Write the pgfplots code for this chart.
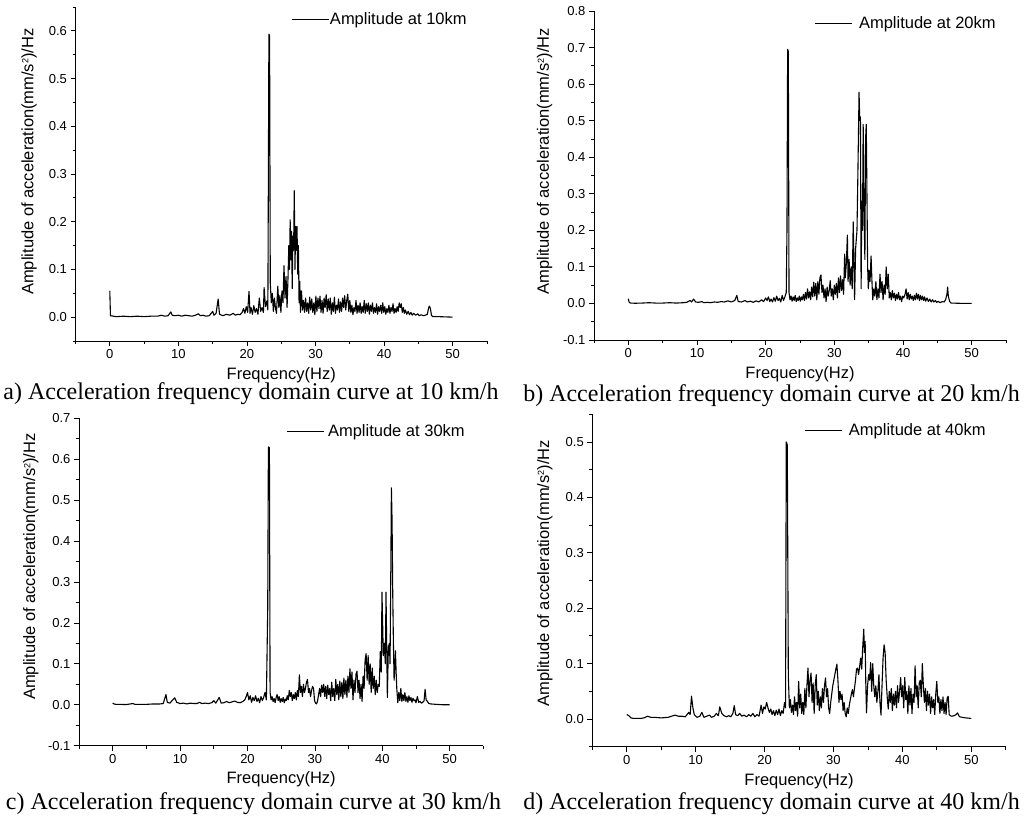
\documentclass[border=0pt]{standalone}
\usepackage{pgfplots}
\usepackage{pgfplotstable}
\pgfplotsset{compat=1.18}
\usepackage{fontspec}
\setmainfont{Liberation Sans}
\newfontfamily\capfont{Liberation Serif}

\pgfplotstableread{
x y
0 0.055
0.1 0.003
0.5 0.002
1 0.001
2 0.002
3 0.001
4 0.002
5 0.001
6 0.002
7 0.002
7.5 0.004
8 0.002
8.5 0.003
8.9 0.011
9.1 0.004
9.5 0.003
10 0.004
10.5 0.002
11 0.004
11.5 0.003
12 0.002
12.5 0.004
12.9 0.007
13.2 0.003
13.6 0.004
14 0.002
14.5 0.003
15 0.012
15.2 0.004
15.5 0.008
15.8 0.038
16.0 0.006
16.5 0.003
17 0.006
17.5 0.004
18 0.008
18.3 0.004
18.7 0.006
19 0.005
19.3 0.010
19.5 0.018
19.7 0.008
19.9 0.022
20.1 0.010
20.3 0.054
20.45 0.008
20.6 0.020
20.8 0.006
21.0 0.024
21.2 0.010
21.4 0.018
21.6 0.006
21.8 0.040
22.0 0.012
22.2 0.020
22.4 0.010
22.5 0.062
22.7 0.022
22.9 0.034
23.05 0.015
23.2 0.593
23.3 0.590
23.4 0.072
23.55 0.030
23.7 0.050
23.85 0.012
24.0 0.040
24.15 0.020
24.3 0.008
24.5 0.065
24.65 0.020
24.8 0.045
24.95 0.010
25.1 0.055
25.25 0.030
25.4 0.108
25.55 0.040
25.7 0.085
25.85 0.020
26.0 0.090
26.1 0.150
26.2 0.100
26.3 0.204
26.4 0.120
26.5 0.180
26.6 0.060
26.7 0.170
26.8 0.140
26.9 0.265
27.0 0.100
27.1 0.190
27.2 0.140
27.3 0.190
27.4 0.090
27.5 0.150
27.6 0.030
27.7 0.075
27.8 0.010
27.95 0.055
28.1 0.015
28.25 0.035
28.4 0.010
28.55 0.040
28.7 0.012
28.85 0.030
29.0 0.008
29.15 0.042
29.3 0.015
29.45 0.038
29.6 0.010
29.75 0.030
29.9 0.005
30.05 0.044
30.2 0.012
30.35 0.040
30.5 0.018
30.65 0.044
30.8 0.010
30.95 0.035
31.1 0.008
31.25 0.040
31.4 0.020
31.55 0.047
31.7 0.012
31.85 0.038
32.0 0.015
32.15 0.040
32.3 0.006
32.45 0.030
32.6 0.012
32.75 0.042
32.9 0.008
33.05 0.025
33.2 0.015
33.35 0.038
33.5 0.010
33.65 0.032
33.8 0.012
33.95 0.040
34.1 0.020
34.25 0.045
34.4 0.015
34.55 0.035
34.7 0.048
34.85 0.012
35.0 0.035
35.15 0.010
35.3 0.025
35.45 0.005
35.6 0.020
35.75 0.012
35.9 0.035
36.05 0.008
36.2 0.025
36.35 0.010
36.5 0.030
36.65 0.008
36.8 0.022
36.95 0.010
37.1 0.035
37.25 0.008
37.4 0.028
37.55 0.012
37.7 0.030
37.85 0.006
38.0 0.025
38.15 0.012
38.3 0.030
38.45 0.008
38.6 0.020
38.75 0.010
38.9 0.028
39.05 0.006
39.2 0.022
39.35 0.012
39.5 0.025
39.65 0.008
39.8 0.030
39.95 0.010
40.1 0.022
40.25 0.006
40.4 0.018
40.55 0.010
40.7 0.025
40.85 0.008
41.0 0.020
41.15 0.012
41.3 0.028
41.45 0.008
41.6 0.018
41.75 0.010
41.9 0.022
42.05 0.012
42.2 0.030
42.35 0.020
42.5 0.028
42.65 0.010
42.8 0.020
42.95 0.008
43.1 0.015
43.3 0.006
43.5 0.012
43.7 0.005
43.9 0.010
44.1 0.004
44.3 0.008
44.6 0.004
44.9 0.007
45.1 0.003
45.4 0.005
45.7 0.003
46.0 0.004
46.3 0.006
46.5 0.020
46.6 0.023
46.75 0.018
46.9 0.004
47.1 0.001
48 0.001
49 0.0005
50 0.0
}\dataA

\pgfplotstableread{
x y
0 0.013
0.1 0.004
0.3 0.001
1 0.0005
2 0.001
3 0.002
4 0.001
5 0.001
6 0.002
7 0.001
8 0.002
8.5 0.003
9.0 0.008
9.2 0.004
9.5 0.012
9.8 0.004
10.2 0.003
10.7 0.005
11 0.002
11.5 0.003
12 0.002
12.5 0.004
13 0.003
13.5 0.005
14 0.004
14.5 0.007
15 0.004
15.5 0.008
15.8 0.022
16 0.005
16.5 0.004
17 0.008
17.3 0.004
17.8 0.006
18.2 0.003
18.6 0.007
19 0.004
19.4 0.010
19.7 0.005
20.0 0.015
20.2 0.008
20.4 0.018
20.6 0.005
20.8 0.012
21.0 0.004
21.2 0.016
21.4 0.006
21.6 0.020
21.8 0.008
22.0 0.014
22.2 0.004
22.4 0.022
22.6 0.008
22.8 0.018
23.0 0.030
23.1 0.195
23.2 0.695
23.3 0.690
23.4 0.030
23.55 0.010
23.7 0.020
23.85 0.006
24.0 0.018
24.15 0.008
24.3 0.022
24.45 0.005
24.6 0.015
24.75 0.008
24.9 0.020
25.05 0.006
25.2 0.018
25.35 0.010
25.5 0.025
25.65 0.008
25.8 0.030
25.95 0.012
26.1 0.040
26.25 0.015
26.4 0.032
26.55 0.010
26.7 0.045
26.85 0.018
27.0 0.058
27.15 0.020
27.3 0.055
27.45 0.010
27.6 0.060
27.75 0.025
27.9 0.070
28.05 0.078
28.2 0.030
28.35 0.050
28.5 0.015
28.65 0.040
28.8 0.005
28.95 0.045
29.1 0.020
29.25 0.035
29.4 0.062
29.55 0.020
29.7 0.040
29.85 0.010
30.0 0.050
30.15 0.025
30.3 0.055
30.45 0.015
30.6 0.070
30.75 0.030
30.9 0.075
31.05 0.035
31.2 0.065
31.35 0.025
31.5 0.135
31.6 0.070
31.75 0.110
31.9 0.187
32.0 0.060
32.15 0.120
32.3 0.050
32.45 0.100
32.6 0.040
32.75 0.223
32.85 0.120
32.95 0.010
33.1 0.150
33.3 0.200
33.45 0.380
33.6 0.578
33.7 0.500
33.8 0.510
33.9 0.040
34.0 0.280
34.1 0.200
34.2 0.490
34.3 0.280
34.45 0.120
34.55 0.450
34.65 0.490
34.75 0.300
34.85 0.100
34.95 0.040
35.05 0.090
35.2 0.060
35.35 0.130
35.5 0.050
35.6 0.010
35.75 0.040
35.9 0.020
36.05 0.060
36.2 0.010
36.35 0.040
36.5 0.015
36.65 0.080
36.8 0.030
36.95 0.060
37.1 0.010
37.25 0.050
37.4 0.025
37.55 0.100
37.7 0.040
37.85 0.080
38.0 0.015
38.15 0.030
38.3 0.010
38.45 0.035
38.6 0.015
38.75 0.028
38.9 0.008
39.05 0.025
39.2 0.012
39.35 0.030
39.5 0.010
39.65 0.020
39.8 0.005
39.95 0.020
40.1 0.015
40.3 0.025
40.45 0.040
40.6 0.012
40.75 0.030
40.9 0.010
41.05 0.025
41.2 0.012
41.35 0.020
41.5 0.008
41.65 0.022
41.8 0.010
41.95 0.028
42.1 0.012
42.25 0.025
42.4 0.008
42.55 0.022
42.7 0.010
42.85 0.020
43.0 0.008
43.15 0.018
43.3 0.006
43.5 0.015
43.7 0.005
43.9 0.012
44.1 0.004
44.3 0.010
44.5 0.004
44.7 0.008
44.9 0.003
45.1 0.006
45.4 0.002
45.7 0.005
46.0 0.004
46.2 0.010
46.4 0.025
46.5 0.045
46.6 0.020
46.8 0.005
47.0 0.001
48 0.0005
49 0.0
50 0.0
}\dataB

\pgfplotstableread{
x y
0 0.004
0.2 0.002
0.5 0.001
1 0.001
2 0.0005
3 0.003
3.3 0.001
4 0.001
5 0.001
6 0.002
7 0.002
7.5 0.003
7.9 0.025
8.1 0.006
8.5 0.004
8.9 0.012
9.2 0.017
9.5 0.006
10 0.003
10.5 0.004
11 0.002
11.5 0.004
12 0.003
12.5 0.003
12.9 0.006
13.2 0.003
13.7 0.004
14.2 0.003
14.7 0.005
15.0 0.010
15.3 0.004
15.8 0.018
16.1 0.004
16.5 0.005
16.9 0.008
17.3 0.005
17.7 0.007
18.1 0.009
18.5 0.006
18.9 0.005
19.3 0.008
19.6 0.012
19.8 0.020
20.0 0.030
20.2 0.012
20.4 0.022
20.6 0.006
20.8 0.018
21.0 0.010
21.2 0.022
21.4 0.008
21.6 0.016
21.8 0.005
22.0 0.020
22.2 0.010
22.4 0.018
22.6 0.030
22.8 0.012
23.0 0.234
23.1 0.630
23.25 0.628
23.35 0.030
23.5 0.012
23.65 0.020
23.8 0.008
23.95 0.015
24.1 0.005
24.25 0.018
24.4 0.025
24.55 0.010
24.7 0.020
24.85 0.006
25.0 0.015
25.15 0.008
25.3 0.018
25.45 0.005
25.6 0.014
25.75 0.010
25.9 0.022
26.05 0.012
26.2 0.035
26.35 0.020
26.5 0.030
26.65 0.010
26.8 0.025
26.95 0.015
27.1 0.030
27.25 0.012
27.4 0.035
27.55 0.020
27.7 0.073
27.85 0.030
28.0 0.045
28.15 0.020
28.3 0.050
28.45 0.030
28.6 0.040
28.75 0.055
28.9 0.062
29.05 0.030
29.2 0.040
29.35 0.020
29.5 0.035
29.65 0.045
29.8 0.040
29.95 0.010
30.1 0.004
30.25 0.002
30.4 0.010
30.55 0.025
30.7 0.040
30.85 0.020
31.0 0.048
31.15 0.030
31.3 0.050
31.45 0.020
31.6 0.045
31.75 0.015
31.9 0.048
32.05 0.025
32.2 0.040
32.35 0.010
32.5 0.055
32.65 0.020
32.8 0.040
32.95 0.010
33.1 0.062
33.25 0.025
33.4 0.050
33.55 0.012
33.7 0.058
33.85 0.020
34.0 0.055
34.15 0.015
34.3 0.065
34.45 0.025
34.6 0.060
34.75 0.018
34.9 0.070
35.05 0.030
35.2 0.088
35.35 0.040
35.5 0.080
35.65 0.012
35.8 0.060
35.95 0.030
36.1 0.075
36.25 0.082
36.4 0.030
36.55 0.060
36.7 0.015
36.85 0.050
37.0 0.008
37.15 0.070
37.3 0.040
37.45 0.110
37.6 0.125
37.75 0.060
37.9 0.120
38.05 0.050
38.2 0.100
38.35 0.030
38.5 0.090
38.65 0.040
38.8 0.070
38.95 0.025
39.1 0.060
39.25 0.030
39.4 0.050
39.55 0.045
39.7 0.130
39.85 0.080
39.95 0.275
40.05 0.200
40.15 0.120
40.3 0.150
40.45 0.100
40.55 0.275
40.65 0.150
40.75 0.018
40.9 0.140
41.05 0.150
41.15 0.100
41.25 0.300
41.35 0.530
41.45 0.450
41.55 0.270
41.65 0.150
41.75 0.060
41.85 0.090
41.95 0.132
42.05 0.080
42.15 0.040
42.3 0.005
42.45 0.030
42.6 0.010
42.75 0.040
42.9 0.008
43.05 0.025
43.2 0.010
43.35 0.030
43.5 0.008
43.65 0.020
43.8 0.006
43.95 0.022
44.1 0.010
44.25 0.018
44.4 0.006
44.55 0.016
44.7 0.010
44.85 0.012
45.0 0.005
45.2 0.020
45.4 0.006
45.6 0.008
45.8 0.004
46.0 0.006
46.2 0.010
46.35 0.038
46.5 0.012
46.7 0.008
46.9 0.003
47.2 0.002
48 0.001
49 0.0
50 0.0
}\dataC

\pgfplotstableread{
x y
0 0.008
0.3 0.006
0.6 0.002
1 0.001
2 0.001
2.5 0.002
3 0.005
3.5 0.003
4 0.003
5 0.002
6 0.003
6.5 0.005
7 0.007
7.5 0.005
8 0.005
8.5 0.004
9.0 0.012
9.2 0.008
9.4 0.041
9.6 0.020
9.8 0.008
10.2 0.003
10.6 0.005
10.9 0.012
11.2 0.003
11.6 0.005
12.0 0.007
12.3 0.003
12.7 0.005
13.0 0.010
13.3 0.006
13.5 0.022
13.8 0.010
14.1 0.006
14.5 0.004
14.8 0.006
15.1 0.004
15.4 0.010
15.6 0.024
15.8 0.008
16.1 0.006
16.4 0.010
16.7 0.005
17.0 0.007
17.4 0.004
17.7 0.008
18.0 0.005
18.3 0.010
18.6 0.004
18.9 0.008
19.2 0.005
19.5 0.025
19.7 0.010
19.9 0.022
20.1 0.018
20.3 0.030
20.5 0.020
20.7 0.012
20.9 0.018
21.1 0.008
21.3 0.015
21.5 0.006
21.7 0.016
21.9 0.008
22.1 0.018
22.3 0.006
22.5 0.015
22.7 0.010
22.9 0.030
23.05 0.020
23.15 0.500
23.3 0.495
23.45 0.080
23.6 0.020
23.75 0.035
23.9 0.012
24.05 0.025
24.2 0.008
24.35 0.040
24.5 0.015
24.65 0.030
24.8 0.005
24.95 0.068
25.1 0.020
25.25 0.045
25.4 0.010
25.55 0.030
25.7 0.008
25.85 0.055
26.0 0.020
26.15 0.060
26.3 0.092
26.45 0.040
26.6 0.070
26.75 0.083
26.9 0.030
27.05 0.065
27.2 0.010
27.35 0.060
27.5 0.080
27.65 0.025
27.8 0.050
27.95 0.015
28.1 0.040
28.25 0.020
28.4 0.055
28.55 0.030
28.7 0.060
28.85 0.074
29.0 0.040
29.15 0.055
29.3 0.020
29.45 0.010
29.6 0.030
29.75 0.045
29.9 0.060
30.05 0.070
30.2 0.080
30.35 0.090
30.5 0.099
30.65 0.070
30.8 0.030
30.95 0.050
31.1 0.035
31.25 0.045
31.4 0.015
31.55 0.030
31.7 0.010
31.85 0.004
32.0 0.020
32.15 0.010
32.3 0.025
32.45 0.035
32.6 0.045
32.75 0.053
32.9 0.040
33.05 0.055
33.2 0.070
33.35 0.090
33.5 0.092
33.65 0.080
33.8 0.095
33.95 0.110
34.1 0.090
34.25 0.130
34.4 0.162
34.5 0.120
34.6 0.140
34.7 0.060
34.8 0.011
34.95 0.060
35.1 0.080
35.25 0.070
35.4 0.102
35.55 0.050
35.7 0.100
35.85 0.060
36.0 0.040
36.15 0.060
36.3 0.030
36.45 0.050
36.6 0.080
36.75 0.030
36.9 0.007
37.05 0.060
37.2 0.110
37.35 0.134
37.5 0.120
37.65 0.070
37.8 0.040
37.95 0.018
38.1 0.050
38.25 0.030
38.4 0.055
38.55 0.015
38.7 0.045
38.85 0.025
39.0 0.050
39.15 0.020
39.3 0.060
39.45 0.030
39.6 0.050
39.75 0.075
39.9 0.040
40.05 0.060
40.2 0.020
40.35 0.075
40.5 0.035
40.65 0.050
40.8 0.010
40.95 0.060
41.1 0.025
41.25 0.055
41.4 0.010
41.55 0.045
41.7 0.030
41.85 0.096
42.0 0.040
42.15 0.060
42.3 0.020
42.45 0.065
42.6 0.070
42.75 0.040
42.9 0.100
43.05 0.060
43.2 0.030
43.35 0.055
43.5 0.015
43.65 0.050
43.8 0.025
43.95 0.045
44.1 0.010
44.25 0.040
44.4 0.020
44.55 0.035
44.7 0.008
44.85 0.045
45.0 0.068
45.15 0.030
45.3 0.040
45.45 0.010
45.6 0.035
45.75 0.015
45.9 0.040
46.05 0.010
46.2 0.030
46.35 0.008
46.5 0.038
46.65 0.041
46.8 0.008
46.95 0.006
47.2 0.005
47.5 0.006
47.8 0.008
48.0 0.011
48.3 0.004
48.7 0.003
49.2 0.002
50 0.001
}\dataD

\pgfplotsset{
  panel/.style={
    scale only axis,
    anchor=south west,
    axis lines=left,
    axis line style={-, line width=0.9pt},
    xmin=-5, xmax=55,
    xtick={0,10,20,30,40,50},
    minor xtick={-5,5,15,25,35,45,55},
    tick align=outside,
    major tick length=5pt,
    minor tick length=3pt,
    every tick/.style={black, line width=0.8pt},
    tick label style={font=\fontsize{13}{15}\selectfont},
    /pgf/number format/assume math mode=true,
    yticklabel style={/pgf/number format/.cd, fixed, fixed zerofill, precision=1},
    label style={font=\fontsize{16.5}{19}\selectfont},
    xlabel={Frequency(Hz)},
    ylabel={Amplitude of acceleration(mm/s\raisebox{0.55ex}{\fontsize{9}{10}\selectfont 2})/Hz},
    xlabel style={at={(axis description cs:0.5,-0.103)}, anchor=center},
    legend style={draw=none, fill=none, inner sep=0pt, nodes={inner sep=0pt},
      font=\fontsize{16.5}{19}\selectfont, anchor=west},
    legend image code/.code={\draw[#1, line width=0.8pt] (0pt,0pt) -- (37pt,0pt);},
    cycle list={{black, line width=1.1pt, line join=round, mark=none}},
  },
}

\begin{document}
\begin{tikzpicture}
\useasboundingbox (0pt,0pt) rectangle (1029pt,819pt);

% a
\begin{axis}[panel,
  at={(75.5pt,478pt)}, width=411.5pt, height=334pt,
  ymin=-0.05, ymax=0.65,
  ytick={0,0.1,0.2,0.3,0.4,0.5,0.6},
  minor ytick={-0.05,0.05,0.15,0.25,0.35,0.45,0.55,0.65},
  ylabel style={at={(axis description cs:-0.113,0.537)}, anchor=center},
  legend style={at={(axis description cs:0.5237,0.964)}, /tikz/column sep=1pt},
]
\addplot[black, line width=1.1pt, line join=round, mark=none] table[x=x,y=y] {\dataA};
\addlegendentry{Amplitude at 10km}
\end{axis}

% b
\begin{axis}[panel,
  at={(594pt,479pt)}, width=412pt, height=329pt,
  ymin=-0.1, ymax=0.8,
  ytick={-0.1,0,0.1,0.2,0.3,0.4,0.5,0.6,0.7,0.8},
  minor ytick={-0.05,0.05,0.15,0.25,0.35,0.45,0.55,0.65,0.75},
  ylabel style={at={(axis description cs:-0.12,0.543)}, anchor=center},
  legend style={at={(axis description cs:0.534,0.9635)}, /tikz/column sep=7pt},
]
\addplot[black, line width=1.1pt, line join=round, mark=none] table[x=x,y=y] {\dataB};
\addlegendentry{Amplitude at 20km}
\end{axis}

% c
\begin{axis}[panel,
  at={(79pt,73.3pt)}, width=404.4pt, height=327.4pt,
  ymin=-0.1, ymax=0.7,
  ytick={-0.1,0,0.1,0.2,0.3,0.4,0.5,0.6,0.7},
  minor ytick={-0.05,0.05,0.15,0.25,0.35,0.45,0.55,0.65},
  ylabel style={at={(axis description cs:-0.119,0.547)}, anchor=center},
  legend style={at={(axis description cs:0.512,0.959)}, /tikz/column sep=4pt},
]
\addplot[black, line width=1.1pt, line join=round, mark=none] table[x=x,y=y] {\dataC};
\addlegendentry{Amplitude at 30km}
\end{axis}

% d
\begin{axis}[panel,
  at={(592.3pt,72.3pt)}, width=413.4pt, height=332.4pt,
  ymin=-0.05, ymax=0.55,
  ytick={0,0.1,0.2,0.3,0.4,0.5},
  minor ytick={-0.05,0.05,0.15,0.25,0.35,0.45,0.55},
  ylabel style={at={(axis description cs:-0.115,0.522)}, anchor=center},
  legend style={at={(axis description cs:0.512,0.953)}, /tikz/column sep=7pt},
]
\addplot[black, line width=1.1pt, line join=round, mark=none] table[x=x,y=y] {\dataD};
\addlegendentry{Amplitude at 40km}
\end{axis}

\node[font=\capfont\fontsize{24}{28}\selectfont, anchor=base] at (251pt,419pt) {a) Acceleration frequency domain curve at 10 km/h};
\node[font=\capfont\fontsize{24}{28}\selectfont, anchor=base] at (771.5pt,417.3pt) {b) Acceleration frequency domain curve at 20 km/h};
\node[font=\capfont\fontsize{24}{28}\selectfont, anchor=base] at (253.5pt,9pt) {c) Acceleration frequency domain curve at 30 km/h};
\node[font=\capfont\fontsize{24}{28}\selectfont, anchor=base] at (771.5pt,9pt) {d) Acceleration frequency domain curve at 40 km/h};
\end{tikzpicture}
\end{document}
